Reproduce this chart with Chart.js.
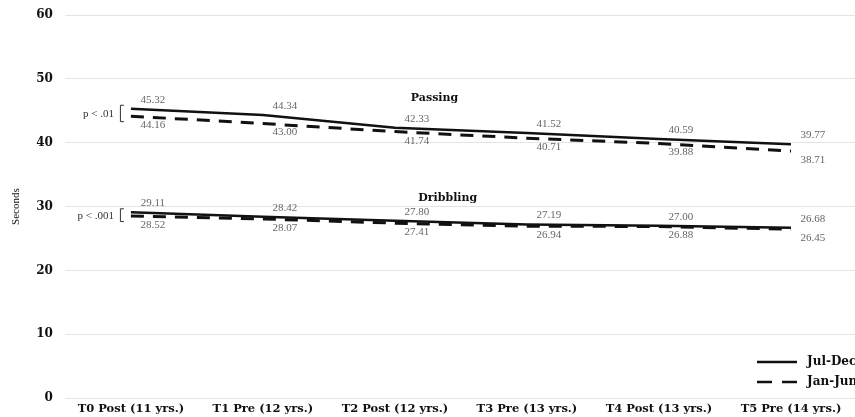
<!DOCTYPE html>
<html>
<head>
<meta charset="utf-8">
<script src="https://cdn.jsdelivr.net/npm/chart.js@4.4.1/dist/chart.umd.min.js"></script>
<style>
  html, body { margin: 0; padding: 0; background: #fff; overflow: hidden; }
  #wrap { width: 870px; height: 417px; }
</style>
</head>
<body>
<div id="wrap"><canvas id="chart" width="870" height="417"></canvas></div>
<script>
// Categories and series
const timePoints = ['T0 Post (11 yrs.)', 'T1 Pre (12 yrs.)', 'T2 Post (12 yrs.)', 'T3 Pre (13 yrs.)', 'T4 Post (13 yrs.)', 'T5 Pre (14 yrs.)'];
const passingJulDec = [45.32, 44.34, 42.33, 41.52, 40.59, 39.77];
const passingJanJun = [44.16, 43.00, 41.74, 40.71, 39.88, 38.71];
const dribblingJulDec = [29.11, 28.42, 27.80, 27.19, 27.00, 26.68];
const dribblingJanJun = [28.52, 28.07, 27.41, 26.94, 26.88, 26.45];
const yTicks = [0, 10, 20, 30, 40, 50, 60];

const SERIF = '"Liberation Serif", "DejaVu Serif", serif';
const WIDE = '"DejaVu Serif", "Liberation Serif", serif';
const INK = '#111';

// Value labels, test names, p-value brackets and legend
const annotatePlugin = {
    id: 'annotate',
    afterDatasetsDraw(chart) {
        const ctx = chart.ctx;
        const xs = chart.scales.x;
        const ys = chart.scales.y;

        // value labels: solid series above, dashed series below
        ctx.save();
        ctx.font = '11px ' + SERIF;
        ctx.fillStyle = '#666';
        ctx.textAlign = 'center';
        ctx.textBaseline = 'middle';
        chart.data.datasets.forEach((ds, i) => {
            const meta = chart.getDatasetMeta(i);
            const above = !ds.borderDash;
            meta.data.forEach((pt, j) => {
                const y = above ? pt.y - 9 : pt.y + 9;
                ctx.fillText(ds.data[j].toFixed(2), pt.x + 22, y);
            });
        });
        ctx.restore();

        // test names
        const xAt = (pos) => {
            const a = Math.floor(pos);
            const p0 = xs.getPixelForValue(a);
            const p1 = xs.getPixelForValue(a + 1);
            return p0 + (pos - a) * (p1 - p0);
        };
        ctx.save();
        ctx.font = 'bold 11px ' + WIDE;
        ctx.fillStyle = INK;
        ctx.textAlign = 'center';
        ctx.textBaseline = 'middle';
        ctx.fillText('Passing', xAt(2.3), ys.getPixelForValue(47));
        ctx.fillText('Dribbling', xAt(2.4), ys.getPixelForValue(31.4));
        ctx.restore();

        // p-value brackets at T0
        const brackets = [
            { text: 'p < .01', top: passingJulDec[0], bottom: passingJanJun[0] },
            { text: 'p < .001', top: dribblingJulDec[0], bottom: dribblingJanJun[0] }
        ];
        const bx = xs.getPixelForValue(0) - 11;
        brackets.forEach(b => {
            const yt = ys.getPixelForValue(b.top) - 4;
            const yb = ys.getPixelForValue(b.bottom) + 5;
            ctx.save();
            ctx.strokeStyle = '#333';
            ctx.lineWidth = 1;
            ctx.beginPath();
            ctx.moveTo(bx + 4, yt + 0.5);
            ctx.lineTo(bx + 0.5, yt + 0.5);
            ctx.lineTo(bx + 0.5, yb + 0.5);
            ctx.lineTo(bx + 4, yb + 0.5);
            ctx.stroke();
            ctx.font = '11px ' + SERIF;
            ctx.fillStyle = '#333';
            ctx.textAlign = 'right';
            ctx.textBaseline = 'middle';
            ctx.fillText(b.text, bx - 6, (yt + yb) / 2 + 1);
            ctx.restore();
        });

        // legend (bottom right, runs past the window edge)
        const items = [
            { label: 'Jul-Dec', dash: [] , y: 362 },
            { label: 'Jan-Jun', dash: [15, 10], y: 382 }
        ];
        items.forEach(it => {
            ctx.save();
            ctx.strokeStyle = INK;
            ctx.lineWidth = 2.5;
            ctx.setLineDash(it.dash);
            ctx.beginPath();
            ctx.moveTo(757, it.y);
            ctx.lineTo(797, it.y);
            ctx.stroke();
            ctx.setLineDash([]);
            ctx.font = 'bold 12px ' + WIDE;
            ctx.fillStyle = INK;
            ctx.textAlign = 'left';
            ctx.textBaseline = 'middle';
            ctx.fillText(it.label, 807, it.y);
            ctx.restore();
        });
    }
};

function lineSet(label, data, dashed) {
    return {
        label: label,
        data: data,
        borderColor: INK,
        backgroundColor: INK,
        borderWidth: dashed ? 3 : 2.5,
        borderDash: dashed ? [13, 9] : undefined,
        pointRadius: 0,
        pointHoverRadius: 0,
        fill: false,
        tension: 0
    };
}

new Chart(document.getElementById('chart').getContext('2d'), {
    type: 'line',
    data: {
        labels: timePoints,
        datasets: [
            lineSet('Passing Jul-Dec', passingJulDec, false),
            lineSet('Passing Jan-Jun', passingJanJun, true),
            lineSet('Dribbling Jul-Dec', dribblingJulDec, false),
            lineSet('Dribbling Jan-Jun', dribblingJanJun, true)
        ]
    },
    options: {
        responsive: false,
        animation: false,
        layout: { padding: { top: 15, right: 13, bottom: -3, left: 10 } },
        plugins: {
            legend: { display: false },
            tooltip: { enabled: false }
        },
        scales: {
            x: {
                offset: true,
                grid: { display: false, drawTicks: false },
                border: { display: false },
                ticks: {
                    color: INK,
                    padding: 4,
                    maxRotation: 0,
                    autoSkip: false,
                    font: { family: WIDE, size: 11.5, weight: 'bold' }
                }
            },
            y: {
                min: 0,
                max: 60,
                afterBuildTicks(scale) {
                    scale.ticks = yTicks.map(v => ({ value: v }));
                },
                grid: { color: '#e4e4e4', lineWidth: 1, drawTicks: false },
                border: { display: false },
                ticks: {
                    color: INK,
                    padding: 12,
                    font: { family: WIDE, size: 12, weight: 'bold', lineHeight: 0.5 }
                },
                title: {
                    display: true,
                    text: 'Seconds',
                    color: INK,
                    padding: { top: 0, bottom: 1 },
                    font: { family: SERIF, size: 11 }
                }
            }
        }
    },
    plugins: [annotatePlugin]
});
</script>
</body>
</html>
